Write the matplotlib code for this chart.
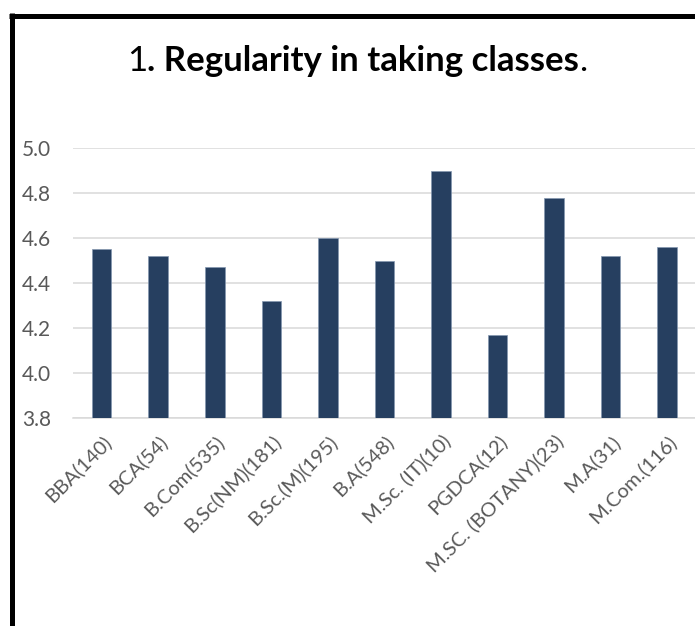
import matplotlib.pyplot as plt
from matplotlib.lines import Line2D
import numpy as np

# programme names with respondent counts, and mean score per programme
programmes = ['BBA(140)', 'BCA(54)', 'B.Com(535)', 'B.Sc(NM)(181)', 'B.Sc.(M)(195)',
              'B.A(548)', 'M.Sc. (IT)(10)', 'PGDCA(12)', 'M.SC. (BOTANY)(23)',
              'M.A(31)', 'M.Com.(116)']
scores = [4.55, 4.52, 4.47, 4.32, 4.60, 4.50, 4.90, 4.17, 4.78, 4.52, 4.56]
yticks = [3.8, 4.0, 4.2, 4.4, 4.6, 4.8, 5.0]

plt.rcParams['font.family'] = ['Lato', 'DejaVu Sans']

W, H = 695, 626
fig = plt.figure(figsize=(W / 100, H / 100), dpi=100)
ax = fig.add_axes([73.4 / W, 1 - 418 / H, 622 / W, 270 / H])

x = np.arange(len(programmes))
ax.bar(x, scores, width=0.345, color='#263f60', edgecolor='#8497b0', linewidth=0.5, zorder=3)

ax.set_xlim(-0.5, len(programmes) - 0.5)
ax.set_ylim(3.8, 5.0)
ax.set_yticks(yticks)
ax.set_yticklabels(['%.1f' % v for v in yticks])
ax.set_xticks(x)
ax.set_xticklabels(programmes, rotation=45, ha='right', rotation_mode='anchor')

ax.grid(axis='y', color='#d9d9d9', linewidth=1.1, zorder=0)
for s in ['top', 'right', 'left']:
    ax.spines[s].set_visible(False)
ax.spines['bottom'].set_color('#d9d9d9')
ax.spines['bottom'].set_linewidth(1.1)
ax.tick_params(axis='both', length=0, labelsize=14.5, labelcolor='#595959')
ax.tick_params(axis='y', labelsize=15, pad=16)
ax.tick_params(axis='x', pad=10)

# title: number and final full stop in regular weight, the rest bold
t1 = fig.text(127 / W, 1 - 71 / H, '1', fontsize=25, va='baseline', ha='left')
t2 = ax.annotate('. Regularity in taking classes', xy=(1, 0), xycoords=t1,
                 fontsize=25, fontweight='bold', va='bottom', ha='left',
                 annotation_clip=False)
ax.annotate('.', xy=(1, 0), xycoords=t2, fontsize=25,
            va='bottom', ha='left', annotation_clip=False)

# black frame along left and top edges
fig.add_artist(Line2D([11.5 / W, 11.5 / W], [1 - 13 / H, 0], transform=fig.transFigure,
                      color='black', linewidth=3.6, solid_capstyle='butt'))
fig.add_artist(Line2D([9 / W, 1], [1 - 15.5 / H, 1 - 15.5 / H], transform=fig.transFigure,
                      color='black', linewidth=3.6, solid_capstyle='butt'))

fig.savefig('out.png', dpi=100)
